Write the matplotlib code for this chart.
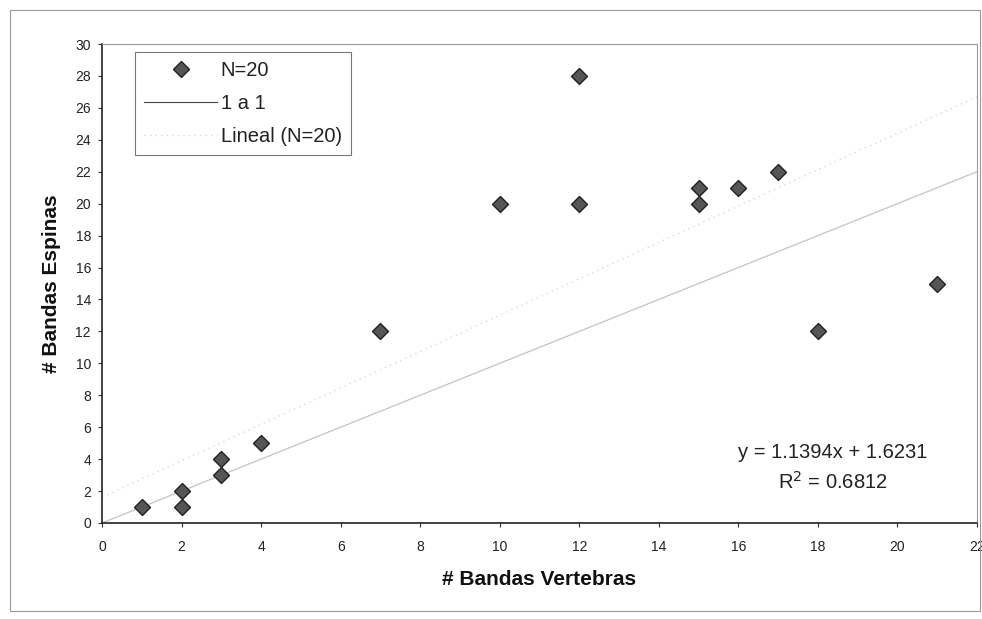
import matplotlib.pyplot as plt
import numpy as np
from matplotlib.patches import Rectangle

plt.rcParams["font.family"] = ["Liberation Sans", "DejaVu Sans"]

# data
vertebras = [1, 2, 2, 3, 3, 4, 7, 10, 12, 12, 15, 15, 16, 17, 18, 21]
espinas = [1, 1, 2, 3, 4, 5, 12, 20, 20, 28, 20, 21, 21, 22, 12, 15]
slope = 1.1394
intercept = 1.6231
r2 = 0.6812
x_ticks = list(range(0, 23, 2))
y_ticks = list(range(0, 31, 2))

fig = plt.figure(figsize=(9.82, 6.19), dpi=100)
ax = fig.add_axes([102 / 982, 1 - 523 / 619, 875 / 982, 479 / 619])

# chart area border
fig.patches.append(Rectangle((10 / 982, 8 / 619), 970 / 982, 601 / 619,
                             transform=fig.transFigure, fill=False,
                             edgecolor="#999999", linewidth=0.8))

line_x = np.array([0, 22])
ax.plot(line_x, line_x, color="#c4c4c4", linewidth=0.9, label="1 a 1", zorder=1)
ax.plot(line_x, slope * line_x + intercept, color="#d8d8d8", linewidth=1.0,
        linestyle=(0, (1, 3)), label="Lineal (N=20)", zorder=1)
ax.plot(vertebras, espinas, linestyle="none", marker="D", markersize=8,
        markerfacecolor="#555555", markeredgecolor="#222222",
        markeredgewidth=1.0, label="N=20", zorder=3)

ax.set_xlim(0, 22)
ax.set_ylim(0, 30)
ax.set_xticks(x_ticks)
ax.set_yticks(y_ticks)
ax.tick_params(labelsize=10, length=3, width=0.8, direction="out",
               color="#333333", labelcolor="#222222")
ax.tick_params(axis="x", pad=9)
ax.tick_params(axis="y", pad=5)

for side in ["top", "right"]:
    ax.spines[side].set_color("#9a9a9a")
    ax.spines[side].set_linestyle((0, (1, 1)))
    ax.spines[side].set_linewidth(0.8)
for side in ["left", "bottom"]:
    ax.spines[side].set_color("#222222")
    ax.spines[side].set_linewidth(1.2)

ax.set_xlabel("# Bandas Vertebras", fontsize=15, fontweight="bold", labelpad=12,
              color="#111111")
ax.set_ylabel("# Bandas Espinas", fontsize=15, fontweight="bold", labelpad=10,
              color="#111111")

handles, labels = ax.get_legend_handles_labels()
order = [2, 0, 1]
leg = ax.legend([handles[i] for i in order], [labels[i] for i in order],
                loc="upper left", bbox_to_anchor=(0.038, 0.983), fontsize=14.5,
                frameon=True, fancybox=False, edgecolor="#555555",
                handlelength=3.6, handletextpad=0.2, labelspacing=0.7,
                borderpad=0.45, borderaxespad=0)
leg.get_frame().set_linewidth(0.8)
leg.get_lines()[1].set_color("#444444")
leg.get_lines()[1].set_linewidth(0.8)
for t in leg.get_texts():
    t.set_color("#222222")

ax.text(0.835, 0.115, f"y = {slope}x + {intercept}\nR$^2$ = {r2}",
        transform=ax.transAxes, ha="center", va="center", fontsize=14.5,
        linespacing=1.45, color="#222222")

fig.savefig("out.png", dpi=100)
